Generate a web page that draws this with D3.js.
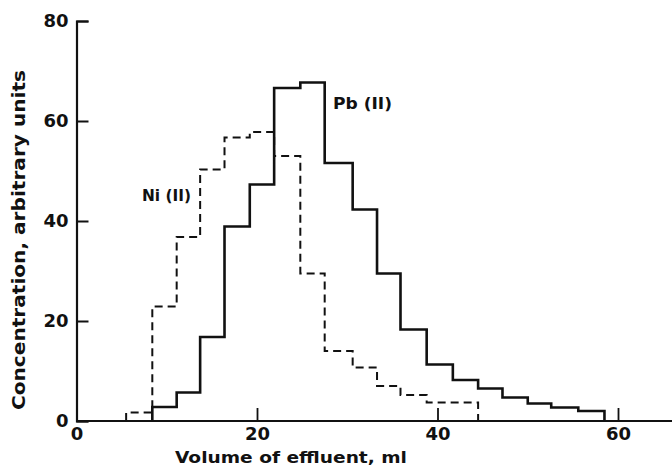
<!DOCTYPE html>
<html>
<head>
<meta charset="utf-8">
<script src="https://cdn.jsdelivr.net/npm/d3@7/dist/d3.min.js"></script>
<style>
  html, body { margin: 0; padding: 0; background: #fff; }
  svg { display: block; }
  text { font-family: "DejaVu Sans", sans-serif; font-weight: bold; fill: #111; }
</style>
</head>
<body>
<svg id="chart" width="672" height="467"></svg>
<script>
// Bin edges of the collected fractions (ml)
const binEdges = [5.5, 8.4, 11.1, 13.7, 16.4, 19.2, 21.9, 24.8, 27.5, 30.6, 33.3, 35.9, 38.8, 41.7, 44.5, 47.2, 50.0, 52.6, 55.6, 58.5];
// Ni(II) concentration per fraction, starting at first bin
const niValues = [1.7, 22.9, 36.8, 50.3, 56.7, 57.8, 53.0, 29.5, 14.0, 10.7, 7.0, 5.2, 3.7, 3.7];
// Pb(II) concentration per fraction (null = not detected)
const pbValues = [null, 2.8, 5.7, 16.8, 38.9, 47.3, 66.6, 67.7, 51.6, 42.3, 29.5, 18.3, 11.3, 8.2, 6.5, 4.7, 3.5, 2.7, 2.0];
const xTicks = [0, 20, 40, 60];
const yTicks = [0, 20, 40, 60, 80];
const labels = { ni: "Ni (II)", pb: "Pb (II)" };
const xTitle = "Volume of effluent, ml";
const yTitle = "Concentration, arbitrary units";

const svg = d3.select("#chart");
const W = 672, H = 467;
const x = d3.scaleLinear().domain([0, 60]).range([76.5, 618]);
const y = d3.scaleLinear().domain([0, 80]).range([421, 21]);

function stepPoints(values) {
  const pts = [];
  let started = false;
  values.forEach((v, i) => {
    if (v == null) return;
    if (!started) { pts.push([binEdges[i], 0]); started = true; }
    pts.push([binEdges[i], v]);
    pts.push([binEdges[i + 1], v]);
  });
  pts.push([binEdges[values.length], 0]);
  return pts;
}
const line = d3.line().x(d => x(d[0])).y(d => y(d[1]));

// Y axis
const yAxis = d3.axisLeft(y).tickValues(yTicks).tickSize(-12).tickPadding(8).tickFormat(d3.format("d"));
const gy = svg.append("g").attr("transform", `translate(${x(0)},0)`).call(yAxis);
gy.select(".domain").attr("stroke", "#111").attr("stroke-width", 2.2);
gy.selectAll(".tick line").attr("stroke", "#111").attr("stroke-width", 2);
gy.selectAll(".tick text").style("font-size", "18px").attr("dy", "0.3em");

// X axis
const xAxis = d3.axisBottom(x).tickValues(xTicks).tickSize(-13).tickPadding(6).tickFormat(d3.format("d"));
const gx = svg.append("g").attr("transform", `translate(0,${y(0)})`).call(xAxis);
gx.select(".domain").remove();
gx.append("line").attr("x1", x(0)).attr("x2", W).attr("y1", 0).attr("y2", 0)
  .attr("stroke", "#111").attr("stroke-width", 2.2);
gx.selectAll(".tick line").attr("stroke", "#111").attr("stroke-width", 1.8);
gx.selectAll(".tick text").style("font-size", "18px");

// Series
svg.append("path").attr("d", line(stepPoints(niValues)))
  .attr("fill", "none").attr("stroke", "#111").attr("stroke-width", 2)
  .attr("stroke-dasharray", "8,5");
svg.append("path").attr("d", line(stepPoints(pbValues)))
  .attr("fill", "none").attr("stroke", "#111").attr("stroke-width", 2.6);

// Series labels
svg.append("text").attr("x", 142).attr("y", 201).style("font-size", "16px")
  .attr("textLength", 49).attr("lengthAdjust", "spacingAndGlyphs").text(labels.ni);
svg.append("text").attr("x", 333).attr("y", 109).style("font-size", "16px")
  .attr("textLength", 59).attr("lengthAdjust", "spacingAndGlyphs").text(labels.pb);

// Axis titles
svg.append("text").attr("x", 291).attr("y", 463).attr("text-anchor", "middle")
  .style("font-size", "16px").attr("textLength", 232).attr("lengthAdjust", "spacingAndGlyphs").text(xTitle);
svg.append("text").attr("transform", "translate(25,240) rotate(-90)").attr("text-anchor", "middle")
  .style("font-size", "17px").attr("textLength", 340).attr("lengthAdjust", "spacingAndGlyphs").text(yTitle);
</script>
</body>
</html>
